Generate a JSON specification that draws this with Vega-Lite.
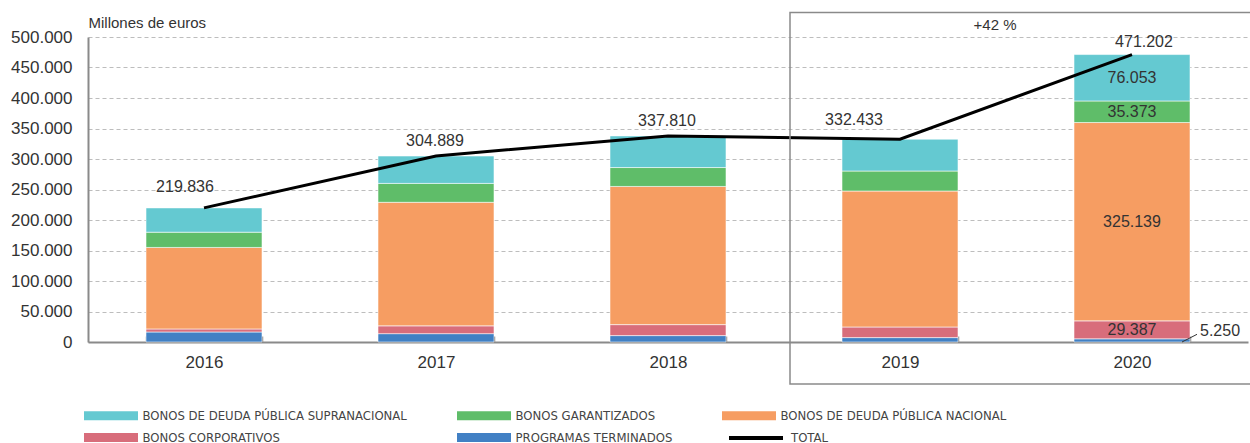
{
  "$schema": "https://vega.github.io/schema/vega-lite/v6.json",
  "width": 1160,
  "height": 305,
  "autosize": {"type": "none"},
  "padding": {"left": 88, "top": 37, "right": 2, "bottom": 101},
  "background": "white",
  "config": {
    "locale": {"number": {"decimal": ",", "thousands": ".", "grouping": [3], "currency": ["", " €"]}},
    "numberFormat": ",d",
    "font": "Liberation Sans",
    "view": {"stroke": null},
    "text": {"font": "Liberation Sans", "fontSize": 16, "color": "#333333"},
    "axisY": {
      "tickCount": 12, "labelOverlap": false, "labelFlush": false, "ticks": false,
      "labelPadding": 16, "labelFontSize": 17, "labelColor": "#333333", "labelFont": "Liberation Sans",
      "domainColor": "#8a8a8a", "domainWidth": 2, "gridDash": [4, 3], "gridColor": "#bdbdbd", "gridWidth": 1
    },
    "axisX": {
      "labelAngle": 0, "labelFontSize": 17, "labelColor": "#333333",
      "labelFont": "Liberation Sans", "domainColor": "#8a8a8a", "domainWidth": 2,
      "tickBand": "extent", "tickSize": -6, "tickColor": "#8a8a8a", "tickWidth": 1.5,
      "labelPadding": 18, "grid": false
    }
  },
  "datasets": {
    "barras": [
      {"year": "2016", "serie": "PROGRAMAS TERMINADOS", "value": 16400, "rank": 1},
      {"year": "2016", "serie": "BONOS CORPORATIVOS", "value": 5000, "rank": 2},
      {"year": "2016", "serie": "BONOS DE DEUDA PÚBLICA NACIONAL", "value": 133600, "rank": 3},
      {"year": "2016", "serie": "BONOS GARANTIZADOS", "value": 25000, "rank": 4},
      {"year": "2016", "serie": "BONOS DE DEUDA PÚBLICA SUPRANACIONAL", "value": 39836, "rank": 5},
      {"year": "2017", "serie": "PROGRAMAS TERMINADOS", "value": 13700, "rank": 1},
      {"year": "2017", "serie": "BONOS CORPORATIVOS", "value": 12800, "rank": 2},
      {"year": "2017", "serie": "BONOS DE DEUDA PÚBLICA NACIONAL", "value": 202500, "rank": 3},
      {"year": "2017", "serie": "BONOS GARANTIZADOS", "value": 31000, "rank": 4},
      {"year": "2017", "serie": "BONOS DE DEUDA PÚBLICA SUPRANACIONAL", "value": 44889, "rank": 5},
      {"year": "2018", "serie": "PROGRAMAS TERMINADOS", "value": 10500, "rank": 1},
      {"year": "2018", "serie": "BONOS CORPORATIVOS", "value": 18000, "rank": 2},
      {"year": "2018", "serie": "BONOS DE DEUDA PÚBLICA NACIONAL", "value": 226500, "rank": 3},
      {"year": "2018", "serie": "BONOS GARANTIZADOS", "value": 31000, "rank": 4},
      {"year": "2018", "serie": "BONOS DE DEUDA PÚBLICA SUPRANACIONAL", "value": 51810, "rank": 5},
      {"year": "2019", "serie": "PROGRAMAS TERMINADOS", "value": 7200, "rank": 1},
      {"year": "2019", "serie": "BONOS CORPORATIVOS", "value": 17400, "rank": 2},
      {"year": "2019", "serie": "BONOS DE DEUDA PÚBLICA NACIONAL", "value": 222900, "rank": 3},
      {"year": "2019", "serie": "BONOS GARANTIZADOS", "value": 32800, "rank": 4},
      {"year": "2019", "serie": "BONOS DE DEUDA PÚBLICA SUPRANACIONAL", "value": 52133, "rank": 5},
      {"year": "2020", "serie": "PROGRAMAS TERMINADOS", "value": 5250, "rank": 1},
      {"year": "2020", "serie": "BONOS CORPORATIVOS", "value": 29387, "rank": 2},
      {"year": "2020", "serie": "BONOS DE DEUDA PÚBLICA NACIONAL", "value": 325139, "rank": 3},
      {"year": "2020", "serie": "BONOS GARANTIZADOS", "value": 35373, "rank": 4},
      {"year": "2020", "serie": "BONOS DE DEUDA PÚBLICA SUPRANACIONAL", "value": 76053, "rank": 5}
    ],
    "totales": [
      {"year": "2016", "total": 219836},
      {"year": "2017", "total": 304889},
      {"year": "2018", "total": 337810},
      {"year": "2019", "total": 332433},
      {"year": "2020", "total": 471202}
    ],
    "marco": [
      {"desde": "2019", "hasta": "2020", "etiqueta": "+42 %", "arriba": 540000, "abajo": -69000, "nivel": 520000}
    ]
  },
  "layer": [
    {
      "data": {"name": "barras"},
      "mark": {"type": "bar", "stroke": "white", "strokeWidth": 0.8, "strokeOpacity": 0.7},
      "encoding": {
        "x": {
          "field": "year", "type": "nominal",
          "scale": {"paddingInner": 0.5, "paddingOuter": 0.25},
          "axis": {"title": null}
        },
        "y": {
          "field": "value", "type": "quantitative", "stack": "zero",
          "scale": {"domain": [0, 500000], "nice": false},
          "axis": {
            "title": "Millones de euros", "titleAngle": 0, "titleAlign": "left", "titleX": 0, "titleY": -15,
            "titleBaseline": "middle", "titleFontSize": 15, "titleFontWeight": "normal", "titleColor": "#333333",
            "titleFont": "Liberation Sans",
            "values": [0, 50000, 100000, 150000, 200000, 250000, 300000, 350000, 400000, 450000, 500000],
            "tickCount": 12,
            "format": ",d"
          }
        },
        "color": {
          "field": "serie", "type": "nominal",
          "scale": {
            "domain": ["BONOS DE DEUDA PÚBLICA SUPRANACIONAL", "BONOS GARANTIZADOS", "BONOS DE DEUDA PÚBLICA NACIONAL", "BONOS CORPORATIVOS", "PROGRAMAS TERMINADOS"],
            "range": ["#64c9d1", "#5fbd69", "#f69d62", "#d86d7b", "#4180c4"]
          },
          "legend": {
            "orient": "none", "legendX": 16.5, "legendY": 372, "direction": "horizontal", "columns": 3,
            "title": null, "padding": 0,
            "symbolType": "M-6,-1H6V1H-6Z", "symbolSize": 81, "symbolStrokeWidth": 0,
            "labelFont": "DejaVu Sans Condensed, Liberation Sans", "labelFontSize": 13, "labelColor": "#444444",
            "labelOffset": 25, "columnPadding": 49, "rowPadding": 8, "labelLimit": 400
          }
        },
        "order": {"field": "rank", "type": "quantitative", "sort": "ascending"}
      }
    },
    {
      "data": {"name": "totales"},
      "mark": {"type": "line", "strokeWidth": 3},
      "encoding": {
        "x": {"field": "year", "type": "nominal"},
        "y": {"field": "total", "type": "quantitative", "scale": {"domain": [0, 500000], "nice": false}},
        "stroke": {
          "datum": "TOTAL", "type": "nominal",
          "scale": {"domain": ["TOTAL"], "range": ["#000000"]},
          "legend": {
            "orient": "none", "legendX": 661.5, "legendY": 394.5, "title": null, "padding": 0,
            "symbolType": "M-6,0H6", "symbolSize": 81, "symbolStrokeWidth": 4,
            "labelFont": "DejaVu Sans Condensed, Liberation Sans", "labelFontSize": 13, "labelColor": "#444444",
            "labelOffset": 28.5
          }
        }
      }
    },
    {
      "data": {"name": "totales"},
      "transform": [{"filter": "datum.year == '2016'"}],
      "mark": {"type": "text", "dx": -19, "dy": -21, "baseline": "middle"},
      "encoding": {
        "x": {"field": "year", "type": "nominal"},
        "y": {"field": "total", "type": "quantitative", "scale": {"domain": [0, 500000], "nice": false}},
        "text": {"field": "total", "type": "quantitative", "format": ",d"}
      }
    },
    {
      "data": {"name": "totales"},
      "transform": [{"filter": "datum.year == '2017' || datum.year == '2018'"}],
      "mark": {"type": "text", "dx": -1, "dy": -15, "baseline": "middle"},
      "encoding": {
        "x": {"field": "year", "type": "nominal"},
        "y": {"field": "total", "type": "quantitative", "scale": {"domain": [0, 500000], "nice": false}},
        "text": {"field": "total", "type": "quantitative", "format": ",d"}
      }
    },
    {
      "data": {"name": "totales"},
      "transform": [{"filter": "datum.year == '2019'"}],
      "mark": {"type": "text", "dx": -46, "dy": -19, "baseline": "middle"},
      "encoding": {
        "x": {"field": "year", "type": "nominal"},
        "y": {"field": "total", "type": "quantitative", "scale": {"domain": [0, 500000], "nice": false}},
        "text": {"field": "total", "type": "quantitative", "format": ",d"}
      }
    },
    {
      "data": {"name": "totales"},
      "transform": [{"filter": "datum.year == '2020'"}],
      "mark": {"type": "text", "dx": 12, "dy": -13, "baseline": "middle"},
      "encoding": {
        "x": {"field": "year", "type": "nominal"},
        "y": {"field": "total", "type": "quantitative", "scale": {"domain": [0, 500000], "nice": false}},
        "text": {"field": "total", "type": "quantitative", "format": ",d"}
      }
    },
    {
      "data": {"name": "barras"},
      "transform": [{"filter": "datum.year == '2020'"}],
      "mark": {"type": "text", "baseline": "middle"},
      "encoding": {
        "x": {"field": "year", "type": "nominal"},
        "y": {"field": "value", "type": "quantitative", "stack": "zero", "bandPosition": 0.5, "scale": {"domain": [0, 500000], "nice": false}},
        "order": {"field": "rank", "type": "quantitative", "sort": "ascending"},
        "text": {
          "condition": {"test": "datum.serie == 'PROGRAMAS TERMINADOS'", "value": ""},
          "field": "value", "type": "quantitative", "format": ",d"
        }
      }
    },
    {
      "data": {"name": "barras"},
      "transform": [{"filter": "datum.year == '2020' && datum.serie == 'PROGRAMAS TERMINADOS'"}],
      "mark": {"type": "text", "align": "left", "baseline": "middle", "dx": 68, "dy": -8},
      "encoding": {
        "x": {"field": "year", "type": "nominal"},
        "y": {"field": "value", "type": "quantitative", "stack": null, "scale": {"domain": [0, 500000], "nice": false}},
        "text": {"field": "value", "type": "quantitative", "format": ",d"}
      }
    },
    {
      "data": {"name": "barras"},
      "transform": [{"filter": "datum.year == '2020' && datum.serie == 'PROGRAMAS TERMINADOS'"}],
      "mark": {"type": "rule", "color": "#333333", "strokeWidth": 1, "xOffset": 50, "x2Offset": 65},
      "encoding": {
        "x": {"field": "year", "type": "nominal"},
        "x2": {"field": "year"},
        "y": {"datum": 0, "type": "quantitative", "scale": {"domain": [0, 500000], "nice": false}},
        "y2": {"datum": 12600}
      }
    },
    {
      "data": {"name": "marco"},
      "mark": {"type": "text", "baseline": "middle", "dx": 95, "fontSize": 15},
      "encoding": {
        "x": {"field": "desde", "type": "nominal"},
        "y": {"field": "nivel", "type": "quantitative", "scale": {"domain": [0, 500000], "nice": false}},
        "text": {"field": "etiqueta", "type": "nominal"}
      }
    },
    {
      "data": {"name": "marco"},
      "mark": {"type": "rect", "fill": null, "fillOpacity": 0, "stroke": "#8a8a8a", "strokeWidth": 1.5, "xOffset": -110, "x2Offset": 125, "clip": false},
      "encoding": {
        "x": {"field": "desde", "type": "nominal"},
        "x2": {"field": "hasta"},
        "y": {"field": "arriba", "type": "quantitative", "scale": {"domain": [0, 500000], "nice": false}},
        "y2": {"field": "abajo"}
      }
    }
  ]
}
